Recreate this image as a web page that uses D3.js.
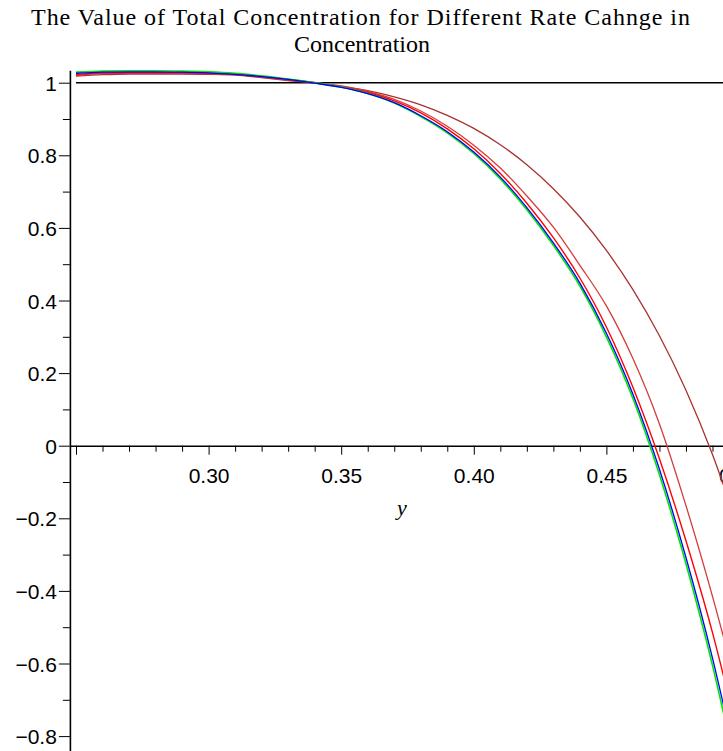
<!DOCTYPE html>
<html>
<head>
<meta charset="utf-8">
<script src="https://cdn.jsdelivr.net/npm/d3@7"></script>
<style>
  body { margin: 0; background: #fff; }
  svg { display: block; background: #fff; }
  .tick text { font-family: "Liberation Sans", Arial, sans-serif; font-size: 21px; fill: #000; }
</style>
</head>
<body>
<svg id="chart" width="723" height="751"></svg>
<script>
// sample points along y
var yValues = [0.25, 0.26, 0.27, 0.28, 0.29, 0.30, 0.31, 0.32, 0.33, 0.34, 0.35, 0.36, 0.37,
               0.38, 0.39, 0.40, 0.41, 0.42, 0.43, 0.44, 0.45, 0.46, 0.47, 0.48, 0.49, 0.50];

// total concentration for each rate change
var greenSeries = [1.029, 1.032, 1.033, 1.033, 1.032, 1.030, 1.026, 1.019, 1.010, 1.000, 0.988, 0.970, 0.944,
                   0.907, 0.862, 0.805, 0.735, 0.650, 0.552, 0.440, 0.300, 0.130, -0.080, -0.325, -0.605, -0.930];
var blueSeries  = [1.026, 1.029, 1.030, 1.030, 1.029, 1.027, 1.023, 1.017, 1.009, 0.999, 0.987, 0.970, 0.945,
                   0.909, 0.865, 0.809, 0.740, 0.656, 0.559, 0.448, 0.310, 0.142, -0.065, -0.308, -0.585, -0.905];
var redSeries   = [1.022, 1.027, 1.028, 1.028, 1.028, 1.027, 1.023, 1.017, 1.009, 1.000, 0.989, 0.973, 0.950,
                   0.917, 0.873, 0.818, 0.750, 0.668, 0.573, 0.462, 0.327, 0.161, -0.036, -0.262, -0.515, -0.810];
var red2Series  = [1.020, 1.025, 1.026, 1.026, 1.026, 1.025, 1.022, 1.016, 1.008, 1.001, 0.991, 0.976, 0.954,
                   0.922, 0.880, 0.828, 0.765, 0.688, 0.602, 0.497, 0.385, 0.240, 0.060, -0.165, -0.415, -0.690];
var brownSeries = [1.018, 1.022, 1.024, 1.024, 1.024, 1.023, 1.021, 1.014, 1.006, 0.999, 0.990, 0.978, 0.961,
                   0.939, 0.910, 0.874, 0.829, 0.774, 0.708, 0.630, 0.538, 0.430, 0.303, 0.153, -0.024, -0.234];
var refSeries   = [1, 1, 1, 1, 1, 1, 1, 1, 1, 1, 1, 1, 1, 1, 1, 1, 1, 1, 1, 1, 1, 1, 1, 1, 1, 1];

var xMajor = [0.25, 0.30, 0.35, 0.40, 0.45, 0.50];
var xMajorLabels = ["", "0.30", "0.35", "0.40", "0.45", "0.50"];
var yMajor = [1, 0.8, 0.6, 0.4, 0.2, 0, -0.2, -0.4, -0.6, -0.8];
var yMajorLabels = ["1", "0.8", "0.6", "0.4", "0.2", "0", "\u22120.2", "\u22120.4", "\u22120.6", "\u22120.8"];
var yMinor = [0.9, 0.7, 0.5, 0.3, 0.1, -0.1, -0.3, -0.5, -0.7, -0.9];

var titleLines = ["The Value of Total Concentration for Different Rate Cahnge in", "Concentration"];

var svg = d3.select("#chart");

var x = d3.scaleLinear().domain([0.25, 0.45]).range([76, 606.4]);
var y = d3.scaleLinear().domain([1, 0]).range([82.7, 445.7]);

// axis scales only used to size the axis lines
var xAxisScale = d3.scaleLinear().domain([0.2477, 0.52]).range([x(0.2477), x(0.52)]);
var yAxisScale = d3.scaleLinear().domain([1.034, -0.95]).range([y(1.034), y(-0.95)]);

var xMinor = d3.range(0.25, 0.505, 0.01).map(function(d){ return Math.round(d * 100) / 100; })
  .filter(function(d){ return xMajor.indexOf(d) < 0; });

// x axis (through y = 0)
var xg = svg.append("g").attr("transform", "translate(0," + y(0) + ")");
xg.append("g")
  .call(d3.axisBottom(xAxisScale).tickValues(xMinor).tickSize(6).tickSizeOuter(0).tickFormat(""))
  .call(function(g){ g.select(".domain").remove(); });
xg.append("g")
  .call(d3.axisBottom(xAxisScale).tickValues(xMajor).tickSize(9).tickSizeOuter(0).tickPadding(13)
        .tickFormat(function(d, i){ return xMajorLabels[i]; }))
  .call(function(g){ g.select(".domain").attr("stroke-width", 1.6); });

// y axis (left edge of view)
var yg = svg.append("g").attr("transform", "translate(" + x(0.2477) + ",0)");
yg.append("g")
  .call(d3.axisLeft(yAxisScale).tickValues(yMinor).tickSize(7).tickSizeOuter(0).tickFormat(""))
  .call(function(g){ g.select(".domain").remove(); });
yg.append("g")
  .call(d3.axisLeft(yAxisScale).tickValues(yMajor).tickSize(11).tickSizeOuter(0).tickPadding(2)
        .tickFormat(function(d, i){ return yMajorLabels[i]; }))
  .call(function(g){
    g.select(".domain").attr("stroke-width", 1.6);
    g.selectAll(".tick text").attr("dy", "0.36em");
  });

svg.selectAll(".tick line").attr("stroke", "#000");

var line = d3.line()
  .x(function(d){ return x(d[0]); })
  .y(function(d){ return y(d[1]); })
  .curve(d3.curveMonotoneX);

var curves = [
  { values: refSeries, color: "#000000", width: 1.6 },
  { values: brownSeries, color: "#a83232", width: 1.3 },
  { values: red2Series, color: "#d43c3c", width: 1.3 },
  { values: redSeries, color: "#ff0000", width: 1.4 },
  { values: greenSeries, color: "#00e600", width: 1.6 },
  { values: blueSeries, color: "#0000ff", width: 1.3 }
];

svg.append("g").selectAll("path")
  .data(curves)
  .enter()
  .append("path")
    .attr("d", function(c){ return line(yValues.map(function(v, i){ return [v, c.values[i]]; })); })
    .attr("fill", "none")
    .attr("stroke", function(c){ return c.color; })
    .attr("stroke-width", function(c){ return c.width; });

// x axis label
svg.append("text")
  .attr("x", 402)
  .attr("y", 515)
  .attr("text-anchor", "middle")
  .style("font-family", "'Liberation Serif', 'Times New Roman', serif")
  .style("font-style", "italic")
  .style("font-size", "22px")
  .text("y");

// title
svg.append("text")
  .attr("x", 31)
  .attr("y", 25)
  .attr("textLength", 659)
  .attr("lengthAdjust", "spacing")
  .style("font-family", "'Liberation Serif', 'Times New Roman', serif")
  .style("font-size", "24px")
  .text(titleLines[0]);
svg.append("text")
  .attr("x", 362)
  .attr("y", 52)
  .attr("text-anchor", "middle")
  .style("font-family", "'Liberation Serif', 'Times New Roman', serif")
  .style("font-size", "24px")
  .text(titleLines[1]);
</script>
</body>
</html>
